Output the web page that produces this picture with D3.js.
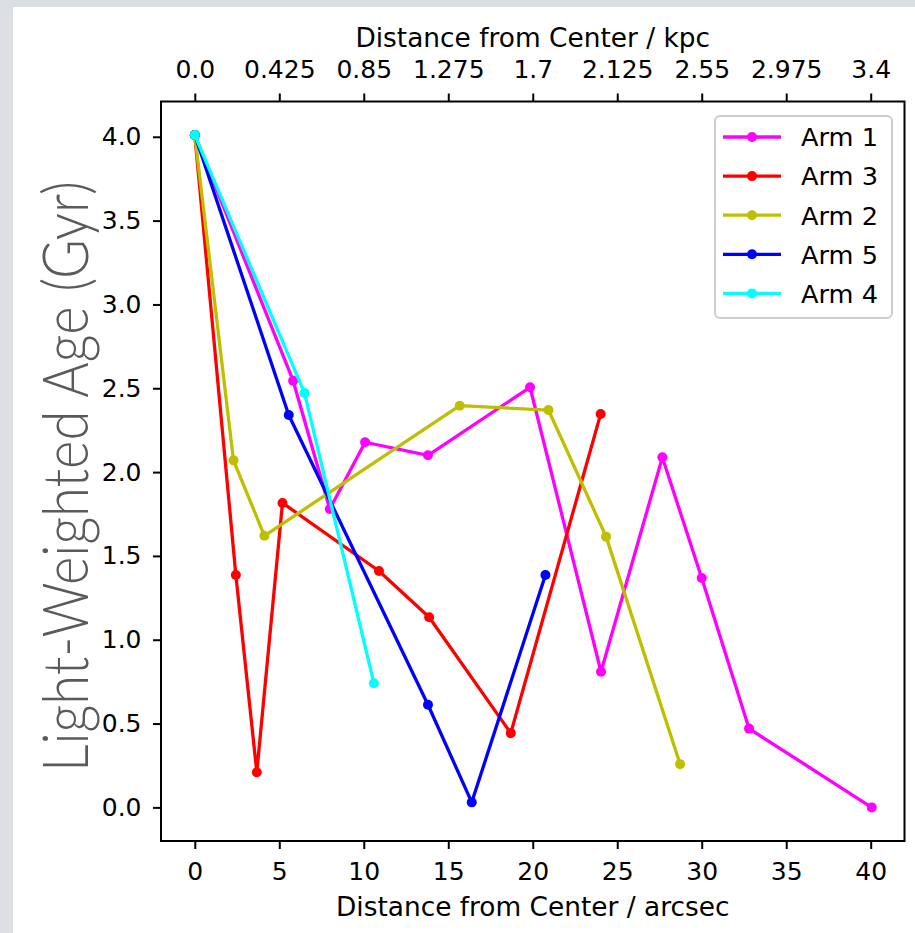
<!DOCTYPE html>
<html>
<head>
<meta charset="utf-8">
<script src="https://cdn.jsdelivr.net/npm/d3@7"></script>
<style>
  html, body { margin: 0; padding: 0; background: #dbdee3; }
  svg { display: block; }
</style>
</head>
<body>
<svg id="chart" width="915" height="933"></svg>
<script>
// Light-weighted stellar age along each spiral arm
const arm1X = [0, 5.82, 7.99, 10.08, 13.8, 19.84, 24.04, 27.67, 30.0, 32.8, 40.06];
const arm1Y = [4.01, 2.545, 1.78, 2.178, 2.10, 2.506, 0.809, 2.088, 1.368, 0.47, 0.0];

const arm3X = [0, 2.43, 3.67, 5.19, 10.9, 13.87, 18.7, 24.02];
const arm3Y = [4.01, 1.386, 0.21, 1.816, 1.41, 1.134, 0.443, 2.347];

const arm2X = [0, 2.29, 4.12, 15.68, 20.93, 24.34, 28.72];
const arm2Y = [4.01, 2.07, 1.62, 2.396, 2.37, 1.615, 0.258];

const arm5X = [0, 5.56, 13.8, 16.39, 20.75];
const arm5Y = [4.01, 2.341, 0.612, 0.03, 1.386];

const arm4X = [0, 6.49, 10.6];
const arm4Y = [4.01, 2.472, 0.74];

const armNames = ["Arm 1", "Arm 3", "Arm 2", "Arm 5", "Arm 4"];
const armColors = ["#ff00ff", "#ff0000", "#bfbf00", "#0000ff", "#00ffff"];

const xTicks = [0, 5, 10, 15, 20, 25, 30, 35, 40];
const kpcLabels = ["0.0", "0.425", "0.85", "1.275", "1.7", "2.125", "2.55", "2.975", "3.4"];
const yTicks = [0.0, 0.5, 1.0, 1.5, 2.0, 2.5, 3.0, 3.5, 4.0];

const series = [
  { name: armNames[0], color: armColors[0], xs: arm1X, ys: arm1Y },
  { name: armNames[1], color: armColors[1], xs: arm3X, ys: arm3Y },
  { name: armNames[2], color: armColors[2], xs: arm2X, ys: arm2Y },
  { name: armNames[3], color: armColors[3], xs: arm5X, ys: arm5Y },
  { name: armNames[4], color: armColors[4], xs: arm4X, ys: arm4Y }
];

const svg = d3.select("#chart");
const font = "'DejaVu Sans', sans-serif";
const tickFs = 25;
const titleFs = 26.4;
const legendFs = 25.6;

// white card
svg.append("rect").attr("x", 13).attr("y", 7).attr("width", 915 - 13).attr("height", 933 - 7).attr("fill", "#ffffff");

const plotL = 161, plotR = 904.5, plotT = 101.5, plotB = 841;
const x = d3.scaleLinear().domain([-2, 42]).range([plotL, plotR]);
const y = d3.scaleLinear().domain([-0.2005, 4.2105]).range([plotB, plotT]);

const g = svg.append("g");

// series
const line = d3.line().x(d => x(d[0])).y(d => y(d[1]));
series.forEach(s => {
  const pts = s.xs.map((v, i) => [v, s.ys[i]]);
  g.append("path").datum(pts)
    .attr("d", line)
    .attr("fill", "none")
    .attr("stroke", s.color)
    .attr("stroke-width", 3.3)
    .attr("stroke-linejoin", "round")
    .attr("stroke-linecap", "square");
  g.selectAll(null).data(pts).enter().append("circle")
    .attr("cx", d => x(d[0])).attr("cy", d => y(d[1]))
    .attr("r", 5).attr("fill", s.color);
});

// axes
function styleAxis(sel) {
  sel.select(".domain").remove();
  sel.selectAll(".tick line").attr("stroke", "#000").attr("stroke-width", 2);
  sel.selectAll(".tick text").attr("font-family", font).attr("font-size", tickFs).attr("fill", "#000");
}
const bottomAxis = d3.axisBottom(x).tickValues(xTicks).tickSize(8).tickPadding(13).tickFormat(d3.format("d"));
svg.append("g").attr("transform", `translate(0,${plotB})`).call(bottomAxis).call(styleAxis);

const topAxis = d3.axisTop(x).tickValues(xTicks).tickSize(8).tickPadding(16)
  .tickFormat((d, i) => kpcLabels[i]);
svg.append("g").attr("transform", `translate(0,${plotT})`).call(topAxis).call(styleAxis);

const leftAxis = d3.axisLeft(y).tickValues(yTicks).tickSize(8).tickPadding(11.5).tickFormat(d3.format(".1f"));
svg.append("g").attr("transform", `translate(${plotL},0)`).call(leftAxis).call(styleAxis);

// frame
svg.append("rect").attr("x", plotL).attr("y", plotT).attr("width", plotR - plotL).attr("height", plotB - plotT)
  .attr("fill", "none").attr("stroke", "#000").attr("stroke-width", 2);

// axis titles
svg.append("text").attr("x", (plotL + plotR) / 2).attr("y", 46.7)
  .attr("text-anchor", "middle").attr("font-family", font).attr("font-size", titleFs).attr("fill", "#000")
  .text("Distance from Center / kpc");
svg.append("text").attr("x", (plotL + plotR) / 2).attr("y", 915.7)
  .attr("text-anchor", "middle").attr("font-family", font).attr("font-size", titleFs).attr("fill", "#000")
  .text("Distance from Center / arcsec");
svg.append("text")
  .attr("transform", "translate(88,476.5) rotate(-90)")
  .attr("text-anchor", "middle")
  .attr("font-family", "Lato, 'Open Sans', sans-serif").attr("font-weight", 300)
  .attr("font-size", 64).attr("fill", "#5a5a5a")
  .attr("textLength", 591).attr("lengthAdjust", "spacingAndGlyphs")
  .text("Light-Weighted Age (Gyr)");

// legend
const lg = svg.append("g");
lg.append("rect").attr("x", 715).attr("y", 116).attr("width", 177).attr("height", 202).attr("rx", 5)
  .attr("fill", "#ffffff").attr("fill-opacity", 0.8).attr("stroke", "#cccccc").attr("stroke-width", 2);
series.forEach((s, i) => {
  const ly = 137 + i * 39.1;
  lg.append("line").attr("x1", 723).attr("x2", 781).attr("y1", ly).attr("y2", ly)
    .attr("stroke", s.color).attr("stroke-width", 3.3);
  lg.append("circle").attr("cx", 752).attr("cy", ly).attr("r", 5).attr("fill", s.color);
  lg.append("text").attr("x", 801).attr("y", ly + 9.3).attr("font-family", font).attr("font-size", legendFs)
    .attr("fill", "#000").text(s.name);
});
</script>
</body>
</html>
